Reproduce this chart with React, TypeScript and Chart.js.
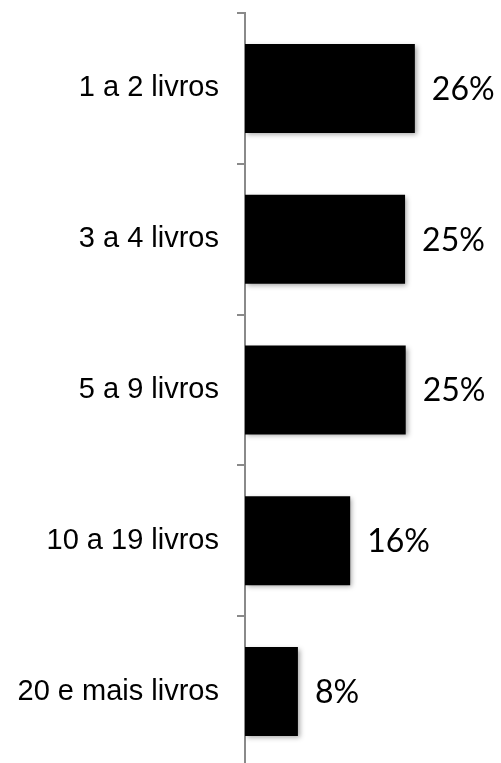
import React, { useEffect, useRef } from "react";
import { Chart, registerables } from "chart.js";

Chart.register(...registerables);

const categories = ["1 a 2 livros", "3 a 4 livros", "5 a 9 livros", "10 a 19 livros", "20 e mais livros"];
const values = [26, 24.5, 24.6, 16.1, 8.1];
const valueLabels = ["26%", "25%", "25%", "16%", "8%"];

const valueLabelPlugin = {
  id: "valueLabels",
  afterDatasetsDraw(chart: any) {
    const ctx = chart.ctx;
    const meta = chart.getDatasetMeta(0);
    ctx.save();
    ctx.font = "32px Lato";
    ctx.fillStyle = "#000000";
    ctx.textAlign = "left";
    ctx.textBaseline = "middle";
    meta.data.forEach((bar: any, i: number) => {
      ctx.fillText(valueLabels[i], bar.x + 17, bar.y + 1);
    });
    ctx.restore();
  },
};

const shadowPlugin = {
  id: "barShadow",
  beforeDatasetDraw(chart: any) {
    const ctx = chart.ctx;
    ctx.save();
    ctx.shadowColor = "rgba(0,0,0,0.35)";
    ctx.shadowBlur = 5;
    ctx.shadowOffsetX = 2;
    ctx.shadowOffsetY = 2;
  },
  afterDatasetDraw(chart: any) {
    chart.ctx.restore();
  },
};

export default function App() {
  const ref = useRef<HTMLCanvasElement>(null);
  useEffect(() => {
    if (!ref.current) return;
    const chart = new Chart(ref.current, {
      type: "bar",
      data: {
        labels: categories,
        datasets: [
          {
            data: values,
            backgroundColor: "#000000",
            borderWidth: 0,
            barPercentage: 0.59,
            categoryPercentage: 1,
          },
        ],
      },
      options: {
        indexAxis: "y",
        animation: false,
        responsive: false,
        devicePixelRatio: 1,
        layout: { padding: { top: 13, right: 60, bottom: 0, left: 0 } },
        plugins: { legend: { display: false }, tooltip: { enabled: false } },
        scales: {
          x: { display: false, min: 0, max: 30 },
          y: {
            afterFit(scale: any) {
              scale.width = 245;
              scale.paddingTop = 0;
              scale.paddingBottom = 0;
            },
            border: { display: true, color: "#8a8a8a", width: 2 },
            grid: {
              offset: true,
              drawOnChartArea: false,
              drawTicks: true,
              tickLength: 8,
              lineWidth: 2,
              color: "#8a8a8a",
            },
            ticks: {
              padding: 18,
              color: "#000000",
              font: { family: "'Liberation Sans', Arial, sans-serif", size: 29 },
            },
          },
        },
      },
      plugins: [shadowPlugin, valueLabelPlugin],
    });
    return () => chart.destroy();
  }, []);
  return (
    <div style={{ position: "fixed", left: 0, top: 0, width: 501, height: 767, background: "#fff" }}>
      <canvas ref={ref} width={501} height={767} style={{ width: 501, height: 767 }} />
    </div>
  );
}
